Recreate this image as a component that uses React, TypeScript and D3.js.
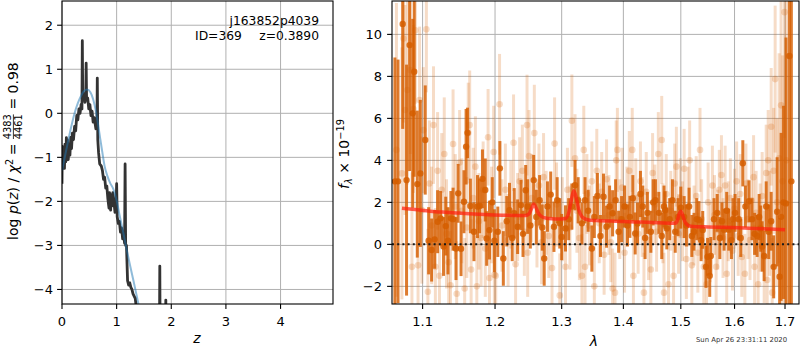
import React from 'react';
import * as d3 from 'd3';

// ---------- Left panel: log p(z) ----------
const zBlack = [0.0,0.005,0.02,0.03,0.045,0.055,0.07,0.08,0.09,0.1,0.115,0.13,0.145,0.16,0.175,0.19,0.21,0.23,0.25,0.27,0.29,0.31,0.33,0.35,0.365,0.372,0.38,0.4,0.42,0.435,0.442,0.45,0.47,0.49,0.51,0.53,0.55,0.57,0.59,0.62,0.64,0.646,0.655,0.67,0.69,0.72,0.74,0.76,0.78,0.8,0.82,0.84,0.86,0.87,0.89,0.9,0.92,0.93,0.95,0.97,0.99,1.0,1.01,1.03,1.05,1.07,1.09,1.11,1.13,1.145,1.155,1.165,1.18,1.2,1.22,1.24,1.26,1.28,1.3,1.34,1.37,1.4,1.78,1.79,1.8,1.89,1.9,1.91,4.96];
const logpBlack = [-1.6,-0.75,-1.2,-0.85,-1.25,-0.7,-1.1,-0.55,-1.0,-0.6,-1.05,-0.7,-0.95,-0.55,-0.8,-0.45,-0.6,-0.3,-0.4,-0.05,-0.15,0.1,0.0,0.2,0.1,1.65,0.3,0.45,0.25,0.4,1.14,0.3,0.35,0.1,0.2,-0.05,0.05,-0.2,-0.1,-0.35,-0.2,0.8,-0.6,-0.9,-1.15,-1.2,-1.3,-1.5,-1.45,-1.7,-1.65,-1.95,-2.15,-1.8,-2.2,-1.85,-2.1,-1.8,-2.0,-2.25,-2.1,-1.6,-2.35,-2.5,-2.45,-2.7,-2.6,-2.85,-2.75,-2.95,-1.15,-3.0,-3.0,-3.8,-3.9,-3.85,-3.95,-4.0,-4.1,-4.2,-4.5,-6,-6,-3.47,-6,-6,-4.24,-6,-6];
const zBlue = [0,0.04,0.1,0.17,0.23,0.29,0.35,0.4,0.46,0.52,0.57,0.62,0.66,0.7,0.74,0.78,0.83,0.88,0.94,1.0,1.06,1.12,1.185,1.245,1.306,1.36,1.42,1.48];
const logpBlue = [-1.3,-1.06,-0.7,-0.3,0.0,0.23,0.4,0.5,0.54,0.48,0.32,0.05,-0.25,-0.58,-0.9,-1.2,-1.42,-1.58,-1.72,-1.98,-2.35,-2.7,-3.1,-3.45,-3.79,-4.1,-4.45,-4.8];
const leftXTicks = [0,1,2,3,4];
const leftYTicks = [-4,-3,-2,-1,0,1,2];

// ---------- Right panel: spectrum ----------
const darkWave = [
1.064,1.068,1.074,1.079,1.083,1.087,1.089,1.093,1.097,1.1035,
1.108,1.112,1.116,1.120,1.124,1.128,1.131,1.134,1.138,1.141,
1.145,1.148,1.152,1.156,1.159,1.161,1.165,1.170,1.175,1.178,
1.182,1.186,1.188,1.192,1.196,1.199,1.204,1.207,1.212,1.217,
1.221,1.225,1.228,1.233,1.238,1.241,1.245,1.248,1.252,1.257,
1.261,1.266,1.270,1.273,1.278,1.283,1.288,1.293,1.297,1.300,
1.306,1.311,1.316,1.321,1.326,1.332,1.337,1.342,1.348,1.352,
1.357,1.362,1.367,1.372,1.377,1.382,1.387,1.392,1.397,1.402,
1.407,1.411,1.416,1.420,1.424,1.429,1.433,1.437,1.441,1.447,
1.451,1.455,1.461,1.466,1.470,1.472,1.475,1.480,1.485,1.490,
1.495,1.500,1.506,1.510,1.515,1.520,1.524,1.529,1.533,1.537,
1.540,1.546,1.549,1.553,1.555,1.561,1.567,1.572,1.576,1.580,
1.585,1.589,1.594,1.597,1.601,1.608,1.612,1.616,1.621,1.628,
1.634,1.639,1.644,1.648,1.651,1.654,1.658,1.662,1.667,1.672,
1.677,1.684,1.689,1.692,1.697,1.702,1.709,1.713];
const darkFlux = [
3.0,3.0,10.5,3.06,9.49,6.24,8.22,2.87,3.38,4.97,
0.17,-0.27,0.24,1.08,1.24,-0.10,0.87,0.17,1.24,1.20,
-0.20,2.43,-0.21,2.03,4.65,5.31,1.83,0.60,1.80,1.83,
3.12,2.59,0.28,0.68,2.00,0.17,0.60,3.62,-0.67,1.10,
1.63,0.30,1.48,0.84,1.87,0.50,2.58,1.80,0.90,3.06,
1.30,2.10,0.80,-0.67,1.80,2.37,0.84,2.10,1.00,0.35,
0.76,1.20,1.80,2.82,2.10,1.00,2.10,1.60,-0.20,1.30,
2.30,0.40,2.27,0.84,1.80,1.48,2.10,0.60,1.20,1.80,
0.90,1.31,2.20,0.52,0.99,2.40,1.80,0.30,1.50,0.60,
2.00,2.10,1.50,0.40,1.80,1.63,0.76,1.20,2.10,0.60,
1.30,1.75,1.30,0.90,1.80,0.40,0.60,1.20,1.16,0.20,
0.69,-1.07,-0.59,-1.50,-0.55,1.20,1.50,0.30,1.10,0.70,
1.60,0.70,0.20,1.20,1.50,1.20,0.30,3.86,1.80,2.05,
1.20,0.50,0.40,1.30,0.75,-0.10,-0.55,1.80,0.60,1.10,
-1.07,1.55,-1.54,1.31,2.00,1.95,8.97,3.00];
const darkErr = [
5.9,5.8,5.0,5.5,6.0,4.5,5.0,3.5,3.5,2.6,
1.6,1.5,1.4,1.5,1.3,1.4,1.4,1.6,1.3,1.5,
1.5,1.4,1.3,1.5,1.8,1.2,1.3,1.4,1.5,1.3,
1.4,1.5,1.3,1.4,1.2,1.5,1.2,1.3,1.3,1.2,
1.3,1.1,1.2,1.3,1.2,1.1,1.2,1.3,1.1,1.2,
1.3,1.2,1.1,1.3,1.2,1.1,1.2,1.1,1.2,1.1,
1.1,1.0,1.1,1.2,1.1,1.0,1.1,1.0,1.1,1.0,
1.1,1.0,1.1,1.0,1.0,1.1,1.0,1.0,1.1,1.0,
1.0,1.0,1.1,1.0,1.0,1.1,1.0,1.0,1.0,1.0,
1.1,1.0,1.0,1.1,1.0,0.9,1.0,1.0,1.0,1.0,
0.9,1.0,1.0,1.0,0.9,1.0,0.9,1.0,0.9,1.0,
0.9,1.0,0.9,1.0,0.9,1.0,0.9,1.0,0.9,1.0,
0.9,1.0,0.9,1.0,0.9,1.0,0.9,1.1,1.0,1.0,
1.0,1.0,1.0,1.1,1.1,1.2,1.2,1.2,1.3,1.4,
1.5,2.6,2.8,4.0,4.6,7.9,12.0,10.0];

const lightWave = [
1.066,1.073,1.075,1.077,1.080,1.084,1.086,1.088,1.0905,1.094,
1.096,1.099,1.101,1.105,1.107,1.109,1.112,1.1145,1.117,1.120,
1.1225,1.1256,1.129,1.132,1.135,1.1375,1.141,1.144,1.146,1.150,
1.153,1.157,1.160,1.162,1.164,1.166,1.169,1.172,1.174,1.177,
1.180,1.183,1.186,1.190,1.192,1.195,1.198,1.199,1.201,1.2065,
1.210,1.215,1.219,1.223,1.227,1.230,1.233,1.236,1.240,1.243,
1.247,1.248,1.250,1.254,1.258,1.262,1.265,1.269,1.272,1.276,
1.280,1.285,1.289,1.292,1.297,1.301,1.306,1.309,1.313,1.316,
1.321,1.324,1.328,1.332,1.335,1.337,1.340,1.344,1.348,1.352,
1.356,1.360,1.364,1.368,1.372,1.376,1.379,1.382,1.386,1.388,
1.390,1.394,1.398,1.402,1.406,1.410,1.415,1.417,1.421,1.425,
1.429,1.432,1.435,1.439,1.443,1.447,1.450,1.454,1.457,1.460,
1.466,1.468,1.470,1.474,1.478,1.482,1.487,1.489,1.492,1.496,
1.499,1.503,1.506,1.510,1.513,1.516,1.520,1.524,1.528,1.531,
1.535,1.538,1.542,1.547,1.550,1.554,1.558,1.562,1.565,1.568,
1.571,1.575,1.578,1.582,1.585,1.588,1.592,1.596,1.600,1.604,
1.607,1.611,1.614,1.620,1.622,1.626,1.630,1.633,1.637,1.639,
1.642,1.646,1.650,1.654,1.658,1.662,1.664,1.666,1.669,1.672,
1.674,1.677,1.680,1.684,1.688,1.692,1.695,1.699,1.703];
const lightFlux = [
4.50,3.38,9.80,6.40,7.35,8.30,-1.07,6.45,10.20,-1.00,
6.87,1.63,5.44,10.24,-2.26,2.90,0.90,5.68,-1.07,3.50,
-1.50,2.60,4.30,0.50,-0.85,-1.95,4.78,1.80,-2.35,3.90,
1.60,-2.10,0.80,5.30,5.68,-1.20,2.20,3.70,-2.00,1.10,
0.30,2.60,-0.20,5.10,-1.60,1.40,4.40,-1.45,-1.50,6.67,
0.90,2.60,0.20,1.90,4.84,-0.95,1.30,3.00,3.50,0.60,
5.68,-0.40,4.20,2.20,5.30,1.00,2.80,0.10,3.20,1.50,
0.40,-1.13,4.80,1.90,-2.43,1.20,-1.07,2.60,0.80,5.89,
4.10,1.60,0.30,-1.50,4.50,-1.07,2.40,0.90,3.00,-2.00,
3.50,1.00,2.50,-0.50,3.10,1.40,0.10,-2.10,-2.30,4.00,
4.50,1.20,2.70,-0.40,1.80,3.50,4.50,-1.50,2.20,0.50,
3.00,1.30,-2.30,2.50,0.20,-1.20,3.40,1.90,0.60,4.30,
4.97,1.00,-2.30,2.40,-1.90,1.60,-1.50,2.90,3.70,0.50,
2.20,1.10,3.60,-0.70,1.80,4.00,-1.00,0.90,2.30,-0.40,
4.50,1.20,-1.07,-1.90,2.00,0.10,2.80,1.40,-1.07,0.70,
2.60,3.30,0.30,2.80,-1.40,1.10,2.20,-0.30,1.70,3.00,
0.40,2.40,-0.60,-1.40,2.90,1.20,0.20,2.10,3.20,-1.07,
1.50,-1.90,0.80,2.30,-0.60,3.40,-1.70,4.00,1.00,5.60,
-2.30,3.50,7.87,2.00,4.10,6.62,3.00,11.06,4.00];
const lightErr = [
7.0,6.0,4.0,5.0,4.5,4.0,4.5,4.0,3.5,4.0,
3.5,3.5,3.0,3.0,3.0,3.0,2.8,2.8,2.8,2.8,
2.7,2.7,2.7,2.6,2.6,2.6,2.6,2.5,2.5,2.5,
2.5,2.4,2.4,2.4,2.6,2.4,2.4,2.4,2.4,2.3,
2.3,2.3,2.3,2.3,2.3,2.3,2.2,2.2,2.2,2.4,
2.2,2.2,2.2,2.1,2.3,2.1,2.1,2.1,2.2,2.1,
2.4,2.1,2.2,2.1,2.3,2.1,2.0,2.0,2.1,2.0,
2.0,2.0,2.2,2.0,2.0,2.0,2.0,2.0,2.0,2.2,
2.1,2.0,2.0,2.0,2.1,2.0,1.9,1.9,1.9,1.9,
2.0,1.9,1.9,1.9,1.9,1.9,1.9,1.9,1.9,1.9,
2.0,1.9,1.9,1.9,1.9,1.9,2.0,1.9,1.9,1.9,
1.9,1.9,1.9,1.9,1.9,1.9,1.9,1.9,1.9,2.0,
2.1,1.9,1.9,1.9,1.9,1.9,1.9,1.9,1.9,1.9,
1.9,1.9,1.9,1.9,1.9,1.9,1.9,1.9,1.9,1.9,
2.0,1.9,1.9,1.9,1.9,1.9,1.9,1.9,1.9,1.9,
1.9,1.9,1.9,1.9,1.9,1.9,1.9,1.9,1.9,1.9,
1.9,1.9,1.9,1.9,1.9,1.9,1.9,1.9,2.0,2.0,
2.0,2.0,2.1,2.1,2.2,2.3,2.3,2.4,2.5,2.8,
2.6,3.0,3.5,4.0,5.0,5.0,6.0,6.0,8.0];

const modelWave = [1.073,1.09,1.11,1.13,1.15,1.17,1.19,1.21,1.23,1.245,1.25,1.254,1.257,1.26,1.264,1.268,1.273,1.28,1.29,1.30,1.306,1.311,1.315,1.319,1.323,1.327,1.332,1.338,1.345,1.36,1.38,1.40,1.42,1.44,1.46,1.48,1.49,1.494,1.497,1.5,1.503,1.507,1.512,1.518,1.53,1.55,1.58,1.61,1.64,1.67,1.70];
const modelFlux = [1.72,1.66,1.58,1.53,1.49,1.45,1.41,1.39,1.38,1.38,1.45,1.72,1.92,1.78,1.5,1.35,1.27,1.23,1.21,1.21,1.23,1.5,2.1,2.55,2.2,1.65,1.32,1.2,1.15,1.13,1.11,1.09,1.07,1.05,1.03,1.01,1.0,1.15,1.45,1.58,1.42,1.1,0.92,0.86,0.84,0.83,0.81,0.79,0.76,0.73,0.70];
const rightXTicks = [1.1,1.2,1.3,1.4,1.5,1.6,1.7];
const rightYTicks = [-2,0,2,4,6,8,10];

const FONT = 'DejaVu Sans';
const GRID = '#b0b0b0';
const ORANGE = 'rgb(213,94,0)';
const fmt = (v: number) => (v < 0 ? '\u2212' + Math.abs(v) : String(v));

export default function App() {
  const lx = d3.scaleLinear().domain([0, 4.96]).range([62, 333]);
  const ly = d3.scaleLinear().domain([-4.33, 2.55]).range([304, 1]);
  const rx = d3.scaleLog().domain([1.0603, 1.7288]).range([392, 799]);
  const ry = d3.scaleLinear().domain([-2.84, 11.59]).range([304, 1]);

  const blackLine = d3.line<number>().x((_, i) => lx(zBlack[i])).y((d) => ly(d));
  const blueLine = d3.line<number>().curve(d3.curveMonotoneX).x((_, i) => lx(zBlue[i])).y((d) => ly(d));
  const modelLine = d3.line<number>().curve(d3.curveMonotoneX).x((_, i) => rx(modelWave[i])).y((d) => ry(d));

  const TL = 4.9;
  const tickFont = 13;

  return (
    <svg width={800} height={350} style={{ position: 'absolute', left: 0, top: 0, background: '#fff' }} fontFamily={FONT}>
      <defs>
        <clipPath id="clipL"><rect x={62} y={1} width={271} height={303} /></clipPath>
        <clipPath id="clipR"><rect x={392} y={1} width={407} height={303} /></clipPath>
      </defs>
      <rect x={0} y={0} width={800} height={350} fill="#fff" />

      {/* ---------- LEFT PANEL ---------- */}
      <g>
        {leftXTicks.map((t) => (
          <line key={'lgx' + t} x1={lx(t)} x2={lx(t)} y1={1} y2={304} stroke={GRID} strokeWidth={1} />
        ))}
        {leftYTicks.map((t) => (
          <line key={'lgy' + t} x1={62} x2={333} y1={ly(t)} y2={ly(t)} stroke={GRID} strokeWidth={1} />
        ))}
        <g clipPath="url(#clipL)">
          <path d={blackLine(logpBlack) || ''} fill="none" stroke="#333" strokeWidth={2.8} strokeLinejoin="round" />
          <path d={blueLine(logpBlue) || ''} fill="none" stroke="#1f77b4" strokeOpacity={0.5} strokeWidth={2} />
        </g>
        <rect x={62} y={1} width={271} height={303} fill="none" stroke="#000" strokeWidth={1.1} />
        {leftXTicks.map((t) => (
          <g key={'lxt' + t}>
            <line x1={lx(t)} x2={lx(t)} y1={304} y2={304 + TL} stroke="#000" strokeWidth={1.1} />
            <text x={lx(t)} y={326} textAnchor="middle" fontSize={tickFont}>{fmt(t)}</text>
          </g>
        ))}
        {leftYTicks.map((t) => (
          <g key={'lyt' + t}>
            <line x1={62 - TL} x2={62} y1={ly(t)} y2={ly(t)} stroke="#000" strokeWidth={1.1} />
            <text x={53} y={ly(t) + 4.7} textAnchor="end" fontSize={tickFont}>{fmt(t)}</text>
          </g>
        ))}
        <text x={319} y={24.5} textAnchor="end" fontSize={12.3}>j163852p4039</text>
        <text x={195} y={39.5} textAnchor="start" fontSize={12.3}>ID=369</text>
        <text x={319} y={39.5} textAnchor="end" fontSize={12.3}>z=0.3890</text>
        <text x={197} y={343} textAnchor="middle" fontSize={14} fontStyle="italic">z</text>
        <g transform="translate(18,240) rotate(-90)" fontSize={14}>
          <text x={0} y={0}>log</text>
          <text x={25.9} y={0}>
            <tspan fontStyle="italic">p</tspan>(<tspan fontStyle="italic">z</tspan>)
          </text>
          <text x={57.6} y={0}>/</text>
          <text x={66.8} y={0}>
            <tspan fontStyle="italic">χ</tspan>
            <tspan fontSize={9.8} dy={-5.5}>2</tspan>
          </text>
          <text x={84.7} y={0}>=</text>
          <text x={113.3} y={-6.8} textAnchor="middle" fontSize={9.8}>4383</text>
          <line x1={101} x2={125.6} y1={-4.6} y2={-4.6} stroke="#000" strokeWidth={0.8} />
          <text x={113.3} y={4.4} textAnchor="middle" fontSize={9.8}>4461</text>
          <text x={130.4} y={0}>=</text>
          <text x={146.6} y={0}>0.98</text>
        </g>
      </g>

      {/* ---------- RIGHT PANEL ---------- */}
      <g>
        {rightXTicks.map((t) => (
          <line key={'rgx' + t} x1={rx(t)} x2={rx(t)} y1={1} y2={304} stroke={GRID} strokeWidth={1} />
        ))}
        {rightYTicks.map((t) => (
          <line key={'rgy' + t} x1={392} x2={799} y1={ry(t)} y2={ry(t)} stroke={GRID} strokeWidth={1} />
        ))}
        <g clipPath="url(#clipR)">
          <g opacity={1}>
            {lightWave.map((w, i) => (
              <line key={'lb' + i} x1={rx(w)} x2={rx(w)} y1={ry(lightFlux[i] - lightErr[i])} y2={ry(lightFlux[i] + lightErr[i])}
                stroke={ORANGE} strokeOpacity={0.22} strokeWidth={3} />
            ))}
            {lightWave.map((w, i) => (
              <circle key={'lm' + i} cx={rx(w)} cy={ry(lightFlux[i])} r={3.3} fill={ORANGE} fillOpacity={0.22} />
            ))}
          </g>
          <g>
            {darkWave.map((w, i) => (
              <line key={'db' + i} x1={rx(w)} x2={rx(w)} y1={ry(darkFlux[i] - darkErr[i])} y2={ry(darkFlux[i] + darkErr[i])}
                stroke={ORANGE} strokeOpacity={0.82} strokeWidth={3} />
            ))}
            {darkWave.map((w, i) => (
              <circle key={'dm' + i} cx={rx(w)} cy={ry(darkFlux[i])} r={3.2} fill={ORANGE} fillOpacity={0.85} />
            ))}
          </g>
          <path d={modelLine(modelFlux) || ''} fill="none" stroke="#ff2010" strokeOpacity={0.72} strokeWidth={3.5} strokeLinejoin="round" />
          <line x1={392} x2={799} y1={ry(0)} y2={ry(0)} stroke="#1a1a1a" strokeWidth={2} strokeDasharray="2 3.2" />
        </g>
        <rect x={392} y={1} width={407} height={303} fill="none" stroke="#000" strokeWidth={1.1} />
        {rightXTicks.map((t) => (
          <g key={'rxt' + t}>
            <line x1={rx(t)} x2={rx(t)} y1={304} y2={304 + TL} stroke="#000" strokeWidth={1.1} />
            <text x={rx(t)} y={326} textAnchor="middle" fontSize={tickFont}>{t.toFixed(1)}</text>
          </g>
        ))}
        {rightYTicks.map((t) => (
          <g key={'ryt' + t}>
            <line x1={392 - TL} x2={392} y1={ry(t)} y2={ry(t)} stroke="#000" strokeWidth={1.1} />
            <text x={382} y={ry(t) + 4.7} textAnchor="end" fontSize={tickFont}>{fmt(t)}</text>
          </g>
        ))}
        <text x={594} y={346} textAnchor="middle" fontSize={14} fontStyle="italic">λ</text>
        <g transform="translate(349,154) rotate(-90)" fontSize={14}>
          <text x={0} y={0} textAnchor="middle">
            <tspan fontStyle="italic">f</tspan>
            <tspan fontSize={9.8} fontStyle="italic" dy={3}>λ</tspan>
            <tspan dy={-3}> × 10</tspan>
            <tspan fontSize={9.8} dy={-5.5}>−19</tspan>
          </text>
        </g>
        <text x={696} y={342} fontSize={6.9} fill="#333">Sun Apr 26 23:31:11 2020</text>
      </g>
    </svg>
  );
}
